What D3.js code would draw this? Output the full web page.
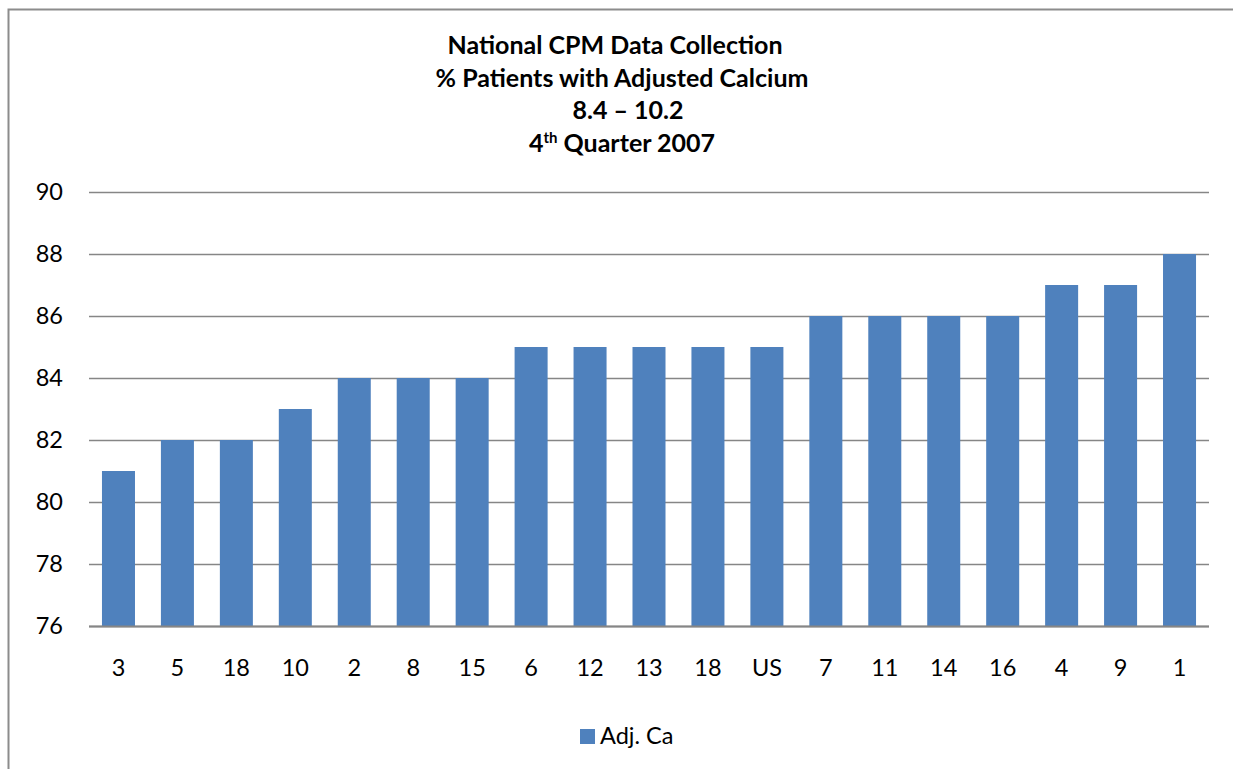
<!DOCTYPE html>
<html>
<head>
<meta charset="utf-8">
<script src="https://cdnjs.cloudflare.com/ajax/libs/d3/7.8.5/d3.min.js"></script>
<style>
  html, body { margin: 0; background: #fff; overflow: hidden; }
  svg { display: block; }
  text { font-family: Lato, "Open Sans", sans-serif; fill: #000; }
</style>
</head>
<body>
<script>
// chart values
let categories = ['3', '5', '18', '10', '2', '8', '15', '6', '12', '13', '18', 'US', '7', '11', '14', '16', '4', '9', '1'];
let values = [81, 82, 82, 83, 84, 84, 84, 85, 85, 85, 85, 85, 86, 86, 86, 86, 87, 87, 88];
let yTicks = [76, 78, 80, 82, 84, 86, 88, 90];
let seriesName = 'Adj. Ca';
let titleLines = ['National CPM Data Collection', '% Patients with Adjusted Calcium', '8.4 \u2013 10.2'];

let W = 1233, H = 769;
let margin = {top: 192, bottom: 143, left: 89, right: 24};
let width = W - margin.left - margin.right,
    height = H - margin.top - margin.bottom;
let fontSize = 23.5, titleSize = 25;

let svg = d3.select("body").append("svg")
    .attr('width', W)
    .attr('height', H);

// outer chart border (only top and left edges fall inside the picture)
svg.append("path")
    .attr("d", "M8.5," + H + "V9.5H" + W)
    .attr("fill", "none")
    .attr("stroke", "#8c8c8c")
    .attr("stroke-width", 2);

let x = d3.scaleBand()
    .domain(d3.range(categories.length))
    .range([0, width])
    .paddingInner(0.44)
    .paddingOuter(0.22);

let y = d3.scaleLinear()
    .domain([76, 90])
    .range([height, 0]);

let g = svg.append("g").attr("transform", "translate(" + margin.left + "," + margin.top + ")");

// gridlines
g.selectAll(".grid")
    .data(yTicks).enter().append("line")
    .attr("class", "grid")
    .attr("x1", 0).attr("x2", width)
    .attr("y1", d => Math.round(y(d)) + 0.5)
    .attr("y2", d => Math.round(y(d)) + 0.5)
    .attr("stroke", "#868686")
    .attr("stroke-width", 1.5);

// bars
g.selectAll(".bar")
    .data(values).enter().append("rect")
    .attr("class", "bar")
    .attr("x", (d, i) => x(i))
    .attr("width", x.bandwidth())
    .attr("y", d => y(d))
    .attr("height", d => y(76) - y(d))
    .attr("fill", "#4F81BD");

// baseline
g.append("line")
    .attr("x1", 0).attr("x2", width)
    .attr("y1", y(76) + 0.5).attr("y2", y(76) + 0.5)
    .attr("stroke", "#868686")
    .attr("stroke-width", 2);

// y axis labels
let yAxis = d3.axisLeft(y).tickValues(yTicks).tickSize(0).tickPadding(26);
g.append("g").call(yAxis)
    .call(a => a.select(".domain").remove())
    .selectAll("text")
    .attr("font-size", fontSize)
    .style("font-family", 'Lato, "Open Sans", sans-serif')
    .attr("fill", "#000");

// x axis labels
let xAxis = d3.axisBottom(x).tickFormat(i => categories[i]).tickSize(0).tickPadding(33);
g.append("g").attr("transform", "translate(0," + height + ")").call(xAxis)
    .call(a => a.select(".domain").remove())
    .selectAll("text")
    .attr("font-size", fontSize)
    .style("font-family", 'Lato, "Open Sans", sans-serif')
    .attr("fill", "#000");

// title (lines are not quite centred on each other in the original)
let lineShift = [-7, 0, 6];
let title = svg.append("g").attr("transform", "translate(" + 622 + ",0)");
titleLines.forEach(function (t, i) {
    title.append("text")
        .attr("x", lineShift[i]).attr("y", 54 + i * 32.5)
        .attr("text-anchor", "middle")
        .attr("font-size", titleSize)
        .attr("font-weight", "bold")
        .text(t);
});
let last = title.append("text")
    .attr("x", 0).attr("y", 151.5)
    .attr("text-anchor", "middle")
    .attr("font-size", titleSize)
    .attr("font-weight", "bold");
last.append("tspan").text("4");
last.append("tspan").attr("font-size", 15).attr("dy", -9).text("th");
last.append("tspan").attr("dy", 9).text(" Quarter 2007");

// legend
let legend = svg.append("g").attr("transform", "translate(580,729)");
legend.append("rect")
    .attr("width", 15).attr("height", 15)
    .attr("fill", "#4F81BD");
legend.append("text")
    .attr("x", 20).attr("y", 15)
    .attr("font-size", fontSize)
    .text(seriesName);
</script>
</body>
</html>
